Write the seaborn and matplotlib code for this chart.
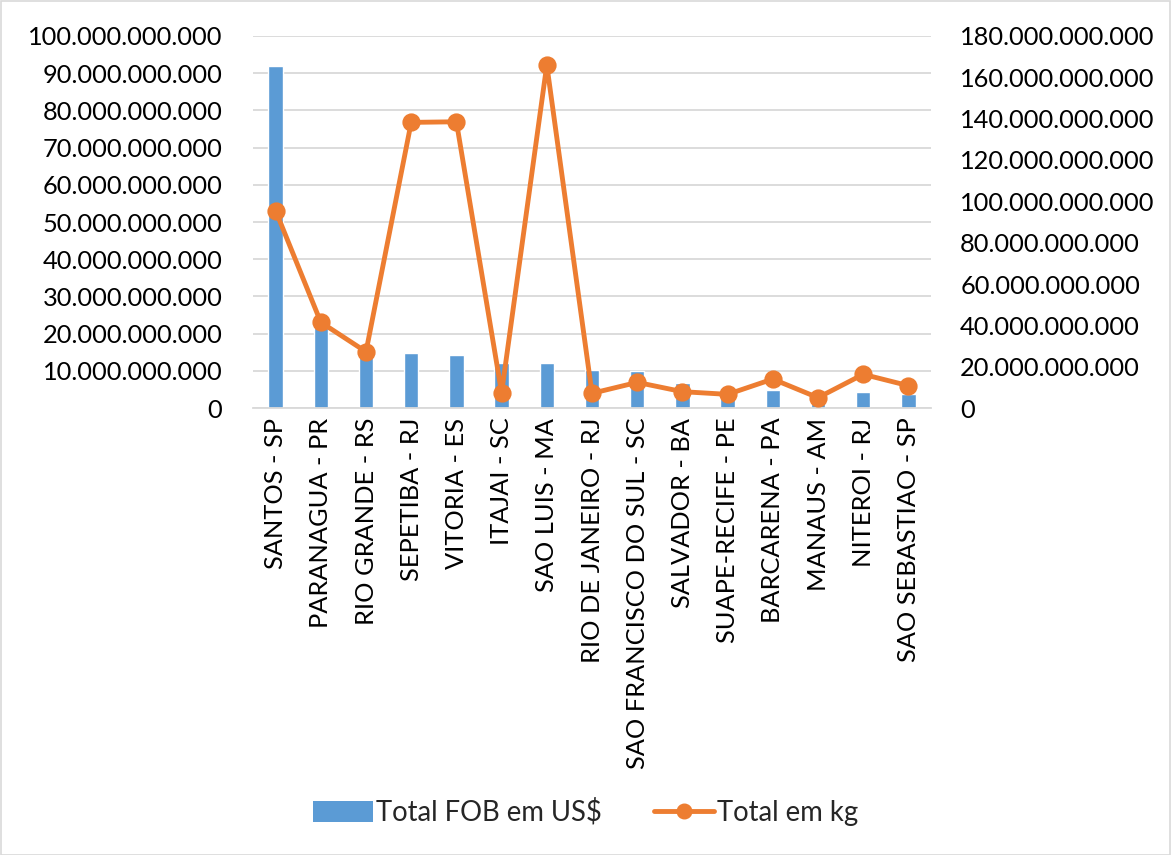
import matplotlib
matplotlib.use("Agg")
import matplotlib.pyplot as plt
from matplotlib.ticker import FuncFormatter
from matplotlib.patches import Rectangle
from matplotlib.lines import Line2D
import seaborn as sns

# Ports and their totals
ports = [
    "SANTOS - SP", "PARANAGUA - PR", "RIO GRANDE - RS", "SEPETIBA - RJ",
    "VITORIA - ES", "ITAJAI - SC", "SAO LUIS - MA", "RIO DE JANEIRO - RJ",
    "SAO FRANCISCO DO SUL - SC", "SALVADOR - BA", "SUAPE-RECIFE - PE",
    "BARCARENA - PA", "MANAUS - AM", "NITEROI - RJ", "SAO SEBASTIAO - SP",
]
fob_usd = [
    91.9e9, 24.5e9, 15.5e9, 14.9e9, 14.2e9, 12.2e9, 12.0e9, 10.2e9,
    10.0e9, 6.8e9, 5.3e9, 4.8e9, 4.7e9, 4.4e9, 3.8e9,
]
total_kg = [
    95.5e9, 41.5e9, 27.2e9, 138.2e9, 138.5e9, 7.4e9, 166.0e9, 7.1e9,
    12.4e9, 7.9e9, 6.6e9, 14.0e9, 5.0e9, 16.3e9, 10.8e9,
]
left_ticks = list(range(0, 100_000_000_001, 10_000_000_000))
right_ticks = list(range(0, 180_000_000_001, 20_000_000_000))

BAR_COLOR = "#5B9BD5"
LINE_COLOR = "#ED7D31"
GRID_COLOR = "#D9D9D9"

sns.set_style("white")
plt.rcParams["font.family"] = ["Lato", "DejaVu Sans"]
plt.rcParams["font.size"] = 18.3

fig = plt.figure(figsize=(11.71, 8.55), dpi=100)
ax = fig.add_axes([253 / 1171, 1 - 408 / 855, (931 - 253) / 1171, (408 - 36) / 855])

sns.barplot(x=ports, y=fob_usd, ax=ax, color=BAR_COLOR, width=0.32,
            saturation=1, zorder=2)

ax2 = ax.twinx()
sns.pointplot(x=ports, y=total_kg, ax=ax2, color=LINE_COLOR, markers="o",
              markersize=10.5, linewidth=3.5, zorder=3)


def thousands(v, _pos):
    return f"{int(round(v)):,}".replace(",", ".")


ax.set_ylim(0, 100e9)
ax.set_yticks(left_ticks)
ax.yaxis.set_major_formatter(FuncFormatter(thousands))
ax2.set_ylim(0, 180e9)
ax2.set_yticks(right_ticks)
ax2.yaxis.set_major_formatter(FuncFormatter(thousands))
ax.set_xlim(-0.5, len(ports) - 0.5)

ax.grid(axis="y", color=GRID_COLOR, linewidth=1.3, zorder=0)
ax.set_axisbelow(True)
ax2.grid(False)
for a in (ax, ax2):
    for s in a.spines.values():
        s.set_visible(False)
    a.set_xlabel("")
    a.set_ylabel("")
ax.spines["bottom"].set_visible(True)
ax.spines["bottom"].set_color(GRID_COLOR)
ax.spines["bottom"].set_linewidth(1.3)

ax.tick_params(axis="y", length=0, pad=22, labelcolor="black")
ax2.tick_params(axis="y", length=0, pad=21, labelcolor="black")
ax.tick_params(axis="x", length=0, pad=7, labelrotation=90, labelcolor="black")
ax2.tick_params(axis="x", length=0, labelbottom=False)

handles = [
    Rectangle((0, 0), 1, 1, facecolor=BAR_COLOR, edgecolor="none"),
    Line2D([0], [0], color=LINE_COLOR, linewidth=3.5, marker="o", markersize=10.5),
]
fig.legend(handles, ["Total FOB em US$", "Total em kg"], loc="center",
           bbox_to_anchor=(0.5, 1 - 812 / 855), ncol=2, frameon=False,
           handlelength=2.2, handleheight=0.8, handletextpad=0.1,
           columnspacing=1.9, fontsize=19.8)

fig.patches.append(Rectangle((0.5 / 1171, 0.5 / 855), 1 - 1.5 / 1171, 1 - 1.5 / 855,
                             transform=fig.transFigure, fill=False,
                             edgecolor=GRID_COLOR, linewidth=1.2))

fig.savefig("out.png", dpi=100)
